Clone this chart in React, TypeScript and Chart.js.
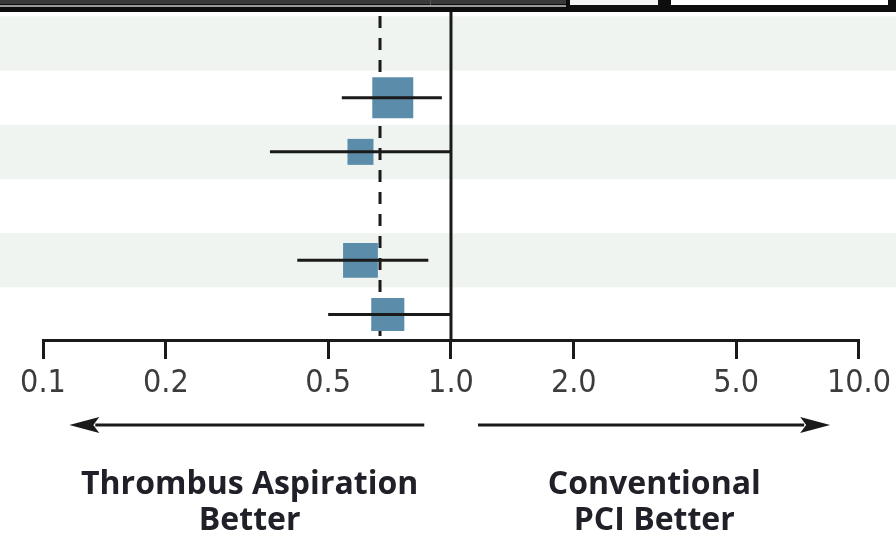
import React, { useEffect, useRef } from "react";
import { Chart, registerables } from "chart.js";

Chart.register(...registerables);

// ---- data ----
const rowIndex = [0, 1, 2, 3, 4, 5];
const estimates: (number | null)[] = [null, 0.72, 0.6, null, 0.6, 0.7];
const lowerCI: (number | null)[] = [null, 0.54, 0.36, null, 0.42, 0.5];
const upperCI: (number | null)[] = [null, 0.95, 1.0, null, 0.88, 1.0];
const weights: (number | null)[] = [null, 36, 14.5, null, 26, 23.5];
const pooledEstimate = 0.67;
const nullValue = 1.0;
const tickValues = [0.1, 0.2, 0.5, 1, 2, 5, 10];
const tickLabels = ["0.1", "0.2", "0.5", "1.0", "2.0", "5.0", "10.0"];
const leftLabel = ["Thrombus Aspiration", "Better"];
const rightLabel = ["Conventional", "PCI Better"];

const INK = "#1a1a1a";
const BAND = "#eff4f0";
const SQUARE = "#5b8dab";

const forestPlugin = {
  id: "forest",
  beforeDraw(chart: any) {
    const { ctx, chartArea, scales } = chart;
    const y = scales.y;
    ctx.save();
    ctx.fillStyle = "#ffffff";
    ctx.fillRect(0, 0, chart.width, chart.height);
    ctx.fillStyle = BAND;
    rowIndex.forEach((i) => {
      if (i % 2 !== 0) return;
      const t = Math.max(chartArea.top, y.getPixelForValue(i - 0.5));
      const b = Math.min(chartArea.bottom, y.getPixelForValue(i + 0.5));
      ctx.fillRect(0, t, chart.width, b - t);
    });
    ctx.restore();
  },
  beforeDatasetsDraw(chart: any) {
    const { ctx, chartArea, scales } = chart;
    const x = scales.x;
    ctx.save();
    ctx.strokeStyle = INK;
    ctx.lineWidth = 3;
    // null line
    const nx = x.getPixelForValue(nullValue);
    ctx.beginPath();
    ctx.moveTo(nx, chartArea.top);
    ctx.lineTo(nx, chartArea.bottom);
    ctx.stroke();
    // pooled dashed line
    const px = x.getPixelForValue(pooledEstimate);
    ctx.setLineDash([12, 10]);
    ctx.lineDashOffset = 18;
    ctx.beginPath();
    ctx.moveTo(px, chartArea.top);
    ctx.lineTo(px, chartArea.bottom);
    ctx.stroke();
    ctx.restore();
  },
  afterDatasetsDraw(chart: any) {
    const { ctx, chartArea, scales } = chart;
    const x = scales.x;
    const y = scales.y;
    ctx.save();
    ctx.strokeStyle = INK;
    ctx.lineWidth = 3;
    rowIndex.forEach((i) => {
      const lo = lowerCI[i];
      const hi = upperCI[i];
      if (lo == null || hi == null) return;
      const yy = y.getPixelForValue(i);
      ctx.beginPath();
      ctx.moveTo(x.getPixelForValue(lo), yy);
      ctx.lineTo(x.getPixelForValue(hi), yy);
      ctx.stroke();
    });

    // direction arrows
    const ay = chartArea.bottom + 85;
    const arrow = (fromV: number, toV: number) => {
      const x1 = x.getPixelForValue(fromV);
      const x2 = x.getPixelForValue(toV);
      const dir = x2 > x1 ? 1 : -1;
      const head = 30;
      ctx.beginPath();
      ctx.moveTo(x1, ay);
      ctx.lineTo(x2 - dir * head + dir * 4, ay);
      ctx.stroke();
      ctx.beginPath();
      ctx.moveTo(x2, ay);
      ctx.lineTo(x2 - dir * head, ay - 8);
      ctx.lineTo(x2 - dir * (head - 6), ay);
      ctx.lineTo(x2 - dir * head, ay + 8);
      ctx.closePath();
      ctx.fillStyle = INK;
      ctx.fill();
    };
    arrow(0.86, 0.116);
    arrow(1.165, 8.5);

    // direction labels
    ctx.fillStyle = "#202028";
    ctx.font = "700 32px 'Open Sans', 'Noto Sans', sans-serif";
    ctx.textAlign = "center";
    ctx.textBaseline = "alphabetic";
    const lx = x.getPixelForValue(0.321);
    const rx = x.getPixelForValue(3.15);
    leftLabel.forEach((s, k) => ctx.fillText(s, lx, chartArea.bottom + 154 + k * 36));
    rightLabel.forEach((s, k) => ctx.fillText(s, rx, chartArea.bottom + 154 + k * 36));
    ctx.restore();
  },
  afterDraw(chart: any) {
    const { ctx } = chart;
    ctx.save();
    // cropped header strip at the top
    ctx.fillStyle = "#0d0d0d";
    ctx.fillRect(0, 0, chart.width, 12);
    ctx.fillStyle = "#3a3a3a";
    ctx.fillRect(0, 0, 566, 4);
    ctx.fillStyle = "#9a9a9a";
    ctx.fillRect(0, 5, 566, 2);
    ctx.fillStyle = "#555555";
    ctx.fillRect(430, 0, 1, 5);
    ctx.fillStyle = "#f3f3f3";
    ctx.fillRect(570, 0, 88, 5);
    ctx.fillStyle = "#ffffff";
    ctx.fillRect(671, 0, 217, 5);
    ctx.restore();
  },
};

export default function App() {
  const ref = useRef<HTMLCanvasElement | null>(null);

  useEffect(() => {
    document.body.style.margin = "0";
    if (!ref.current) return;
    const points = rowIndex
      .filter((i) => estimates[i] != null)
      .map((i) => ({ x: estimates[i] as number, y: i }));
    const radii = rowIndex
      .filter((i) => estimates[i] != null)
      .map((i) => (Math.sqrt(weights[i] as number) * 6.83) / Math.SQRT2);

    const chart = new Chart(ref.current, {
      type: "scatter",
      data: {
        datasets: [
          {
            data: points,
            pointStyle: "rect",
            pointRadius: radii,
            pointHoverRadius: radii,
            pointBackgroundColor: SQUARE,
            pointBorderWidth: 0,
            borderWidth: 0,
          },
        ],
      },
      plugins: [forestPlugin],
      options: {
        animation: false,
        responsive: false,
        devicePixelRatio: 1,
        layout: {
          autoPadding: false,
          padding: { left: 43, right: 31, top: 12, bottom: 138 },
        },
        plugins: {
          legend: { display: false },
          tooltip: { enabled: false },
          title: { display: false },
        },
        scales: {
          x: {
            type: "logarithmic",
            position: "bottom",
            min: 0.1,
            max: 10,
            afterBuildTicks: (s: any) => {
              s.ticks = tickValues.map((v) => ({ value: v }));
            },
            afterFit: (s: any) => {
              s.height = 60;
            },
            ticks: {
              autoSkip: false,
              maxRotation: 0,
              padding: 5,
              color: "#3c3c3c",
              font: { family: "'DejaVu Sans Condensed', 'DejaVu Sans', sans-serif", size: 32 },
              callback: (_v: any, idx: number) => tickLabels[idx],
            },
            grid: {
              drawOnChartArea: false,
              drawTicks: true,
              tickLength: 19,
              lineWidth: 3,
              color: INK,
            },
            border: { display: true, width: 3, color: INK },
          },
          y: {
            type: "linear",
            display: false,
            reverse: true,
            min: -0.58,
            max: 5.47,
          },
        },
      } as any,
    });
    return () => chart.destroy();
  }, []);

  return (
    <div style={{ width: 896, height: 538, overflow: "hidden" }}>
      <canvas ref={ref} width={896} height={538} style={{ display: "block", width: 896, height: 538 }} />
    </div>
  );
}
